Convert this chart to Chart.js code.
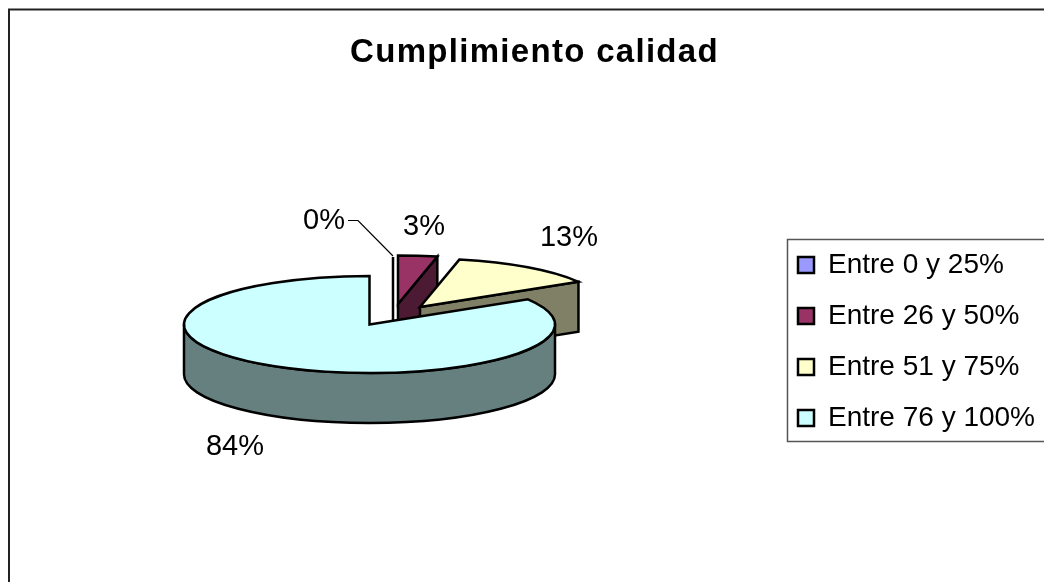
<!DOCTYPE html>
<html lang="es">

<head>
    <meta charset="UTF-8" />
    <title>Cumplimiento calidad</title>
    <script src="https://cdn.jsdelivr.net/npm/chart.js"></script>
    <style>
        body {
            margin: 0;
            background-color: #fff;
        }

        canvas {
            display: block;
        }
    </style>
</head>

<body>
    <canvas id="pieChart" width="1044" height="582"></canvas>

    <script>
        const categories = ["Entre 0 y 25%", "Entre 26 y 50%", "Entre 51 y 75%", "Entre 76 y 100%"];
        const shares = [0, 3.4, 12.9, 83.7];
        const topColors = ["#9999ff", "#993366", "#ffffcc", "#ccffff"];
        const sideColors = ["#4d4d80", "#4d1a33", "#808066", "#668080"];

        // 3D look: ellipse of the pie, wall height and how far each slice is pulled out
        const pieX = 369.5, pieY = 324.5, radiusX = 185.5, radiusY = 48.5, wall = 50;
        const sliceShift = [[23.5, -19], [28.5, -20.5], [50.5, -17.5], [0, 0]];
        const labelSpots = [[324, 221], [424, 227], [569, 238], [235, 447]];

        function drawSlice(ctx, arc, i) {
            const cx = pieX + sliceShift[i][0];
            const cy = pieY + sliceShift[i][1];
            const a0 = arc.startAngle, a1 = arc.endAngle;
            const rimX = a => cx + radiusX * Math.cos(a);
            const rimY = a => cy + radiusY * Math.sin(a);

            ctx.lineWidth = 2.5;
            ctx.lineJoin = "miter";
            ctx.strokeStyle = "#000";

            // empty slice is just a line
            if (a1 - a0 === 0) {
                ctx.beginPath();
                ctx.moveTo(rimX(a0), rimY(a0));
                ctx.lineTo(rimX(a0), cy + wall);
                ctx.stroke();
                return;
            }

            ctx.fillStyle = sideColors[i];

            // cut face, only when it looks towards the viewer
            if (Math.cos(a1) > 1e-6) {
                ctx.beginPath();
                ctx.moveTo(cx, cy);
                ctx.lineTo(rimX(a1), rimY(a1));
                ctx.lineTo(rimX(a1), rimY(a1) + wall);
                ctx.lineTo(cx, cy + wall);
                ctx.closePath();
                ctx.fill();
                ctx.stroke();
            }

            // outer wall, front half only
            const lo = Math.max(a0, 0), hi = Math.min(a1, Math.PI);
            if (lo < hi) {
                ctx.beginPath();
                ctx.ellipse(cx, cy, radiusX, radiusY, 0, lo, hi);
                ctx.ellipse(cx, cy + wall, radiusX, radiusY, 0, hi, lo, true);
                ctx.closePath();
                ctx.fill();
                ctx.stroke();
            }

            // top
            ctx.fillStyle = topColors[i];
            ctx.beginPath();
            ctx.moveTo(cx, cy);
            ctx.ellipse(cx, cy, radiusX, radiusY, 0, a0, a1);
            ctx.closePath();
            ctx.fill();
            ctx.stroke();
        }

        const pie3d = {
            id: "pie3d",
            afterLayout(chart) {
                // title and legend sit where the original has them
                const t = chart.titleBlock;
                t.left = 25; t.right = 1044; t.top = 33; t.bottom = 78;
                const l = chart.legend;
                l.left = 775; l.right = 1044; l.top = 228; l.bottom = 582;

                // original title is spaced out a bit
                t.draw = function () {
                    chart.ctx.letterSpacing = "1.3px";
                    t.constructor.prototype.draw.call(t);
                    chart.ctx.letterSpacing = "0px";
                };
            },
            beforeDraw(chart) {
                const ctx = chart.ctx;
                ctx.save();
                ctx.strokeStyle = "#222";
                ctx.lineWidth = 2;
                ctx.beginPath();
                ctx.moveTo(9, 582);
                ctx.lineTo(9, 9.5);
                ctx.lineTo(1044, 9.5);
                ctx.stroke();

                ctx.strokeStyle = "#555";
                ctx.lineWidth = 1.5;
                ctx.beginPath();
                ctx.moveTo(1046, 239.5);
                ctx.lineTo(787.5, 239.5);
                ctx.lineTo(787.5, 441.5);
                ctx.lineTo(1046, 441.5);
                ctx.stroke();
                ctx.restore();
            },
            beforeDatasetDraw(chart, args) {
                const ctx = chart.ctx;
                const arcs = args.meta.data;
                ctx.save();
                arcs.forEach((arc, i) => drawSlice(ctx, arc, i));

                // leader line of the 0% label
                ctx.strokeStyle = "#000";
                ctx.lineWidth = 1.2;
                ctx.beginPath();
                ctx.moveTo(348, 220.5);
                ctx.lineTo(358, 220.5);
                ctx.lineTo(393, 256);
                ctx.stroke();

                ctx.fillStyle = "#000";
                ctx.font = '29px "Liberation Sans"';
                ctx.textAlign = "center";
                ctx.textBaseline = "middle";
                shares.forEach((v, i) => {
                    ctx.fillText(Math.round(v) + "%", labelSpots[i][0], labelSpots[i][1]);
                });
                ctx.restore();
                return false;
            }
        };

        new Chart(document.getElementById("pieChart"), {
            type: "pie",
            data: {
                labels: categories,
                datasets: [{
                    data: shares,
                    backgroundColor: topColors,
                    borderColor: "#000",
                    borderWidth: 2.5
                }]
            },
            options: {
                responsive: false,
                animation: false,
                plugins: {
                    title: {
                        display: true,
                        text: "Cumplimiento calidad",
                        color: "#000",
                        font: { family: '"Liberation Sans"', size: 33, weight: "bold" },
                        padding: 0
                    },
                    legend: {
                        position: "right",
                        align: "start",
                        labels: {
                            color: "#000",
                            font: { family: '"Liberation Sans"', size: 28 },
                            boxWidth: 16,
                            boxHeight: 16,
                            padding: 23
                        }
                    },
                    tooltip: { enabled: false }
                }
            },
            plugins: [pie3d]
        });
    </script>
</body>

</html>
